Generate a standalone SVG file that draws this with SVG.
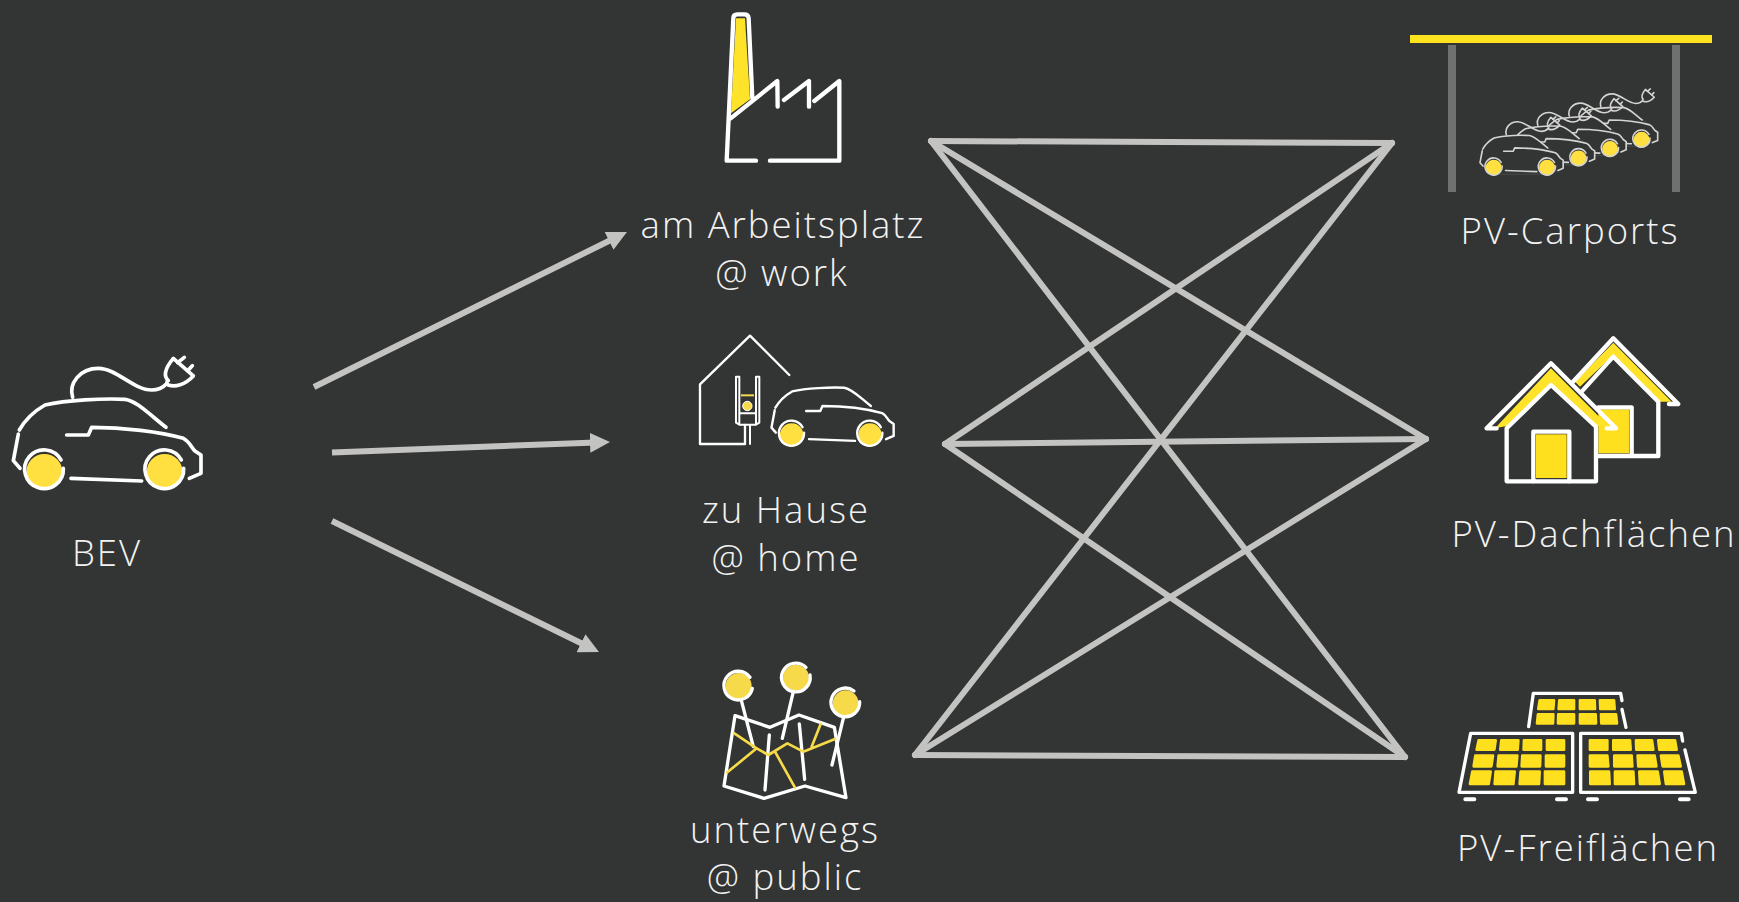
<svg xmlns="http://www.w3.org/2000/svg" xmlns:xlink="http://www.w3.org/1999/xlink" width="1739" height="902" viewBox="0 0 1739 902">
<style>
text{font-family:"Open Sans","Lato","Liberation Sans",sans-serif;font-weight:300;font-size:36.5px;letter-spacing:2px;fill:#f2f2f2;text-anchor:middle}
.l{fill:none;stroke:#fff;stroke-linecap:round;stroke-linejoin:round}
.y{fill:#ffe32a;stroke:none}
.mesh line{stroke:#c3c4c2;stroke-width:6;stroke-linecap:round}
.arr line{stroke:#c3c4c2;stroke-width:6;marker-end:url(#head)}
.cell{fill:#ffe01f;stroke:#ffe01f;stroke-width:8;stroke-linejoin:round}
.cw{stroke-width:11;fill:none;stroke-linecap:round;stroke-linejoin:round}
.whl{fill:#ffe040;stroke:none}
.pin{fill:#f6da4a;stroke:none}
.rd{fill:none;stroke:#f6da4a;stroke-width:8;stroke-linecap:round;stroke-linejoin:round}
</style>
<defs>
<marker id="head" markerUnits="userSpaceOnUse" markerWidth="20" markerHeight="20" refX="6" refY="10" orient="auto" viewBox="0 0 20 20"><path d="M0,0L20,10L0,20z" fill="#c3c4c2"/></marker>
<g id="carbody" class="cw">
<path d="M58,270C75,240 100,215 135,195C200,180 310,175 375,178C410,182 450,225 498,262"/>
<path d="M55,282L40,362L60,385"/>
<path d="M200,285L265,285L275,262C370,262 480,275 550,295C570,305 575,325 585,333L603,345L603,400L568,415"/>
<path d="M213,415L425,423"/>
<circle class="whl" cx="133" cy="396" r="54"/>
<circle class="whl" cx="494" cy="396" r="54"/>
<path d="M183,360A58,58 0 1 0 190,385"/>
<path d="M544,360A58,58 0 1 0 551,385"/>
</g>
<g id="carcable" class="cw">
<path d="M218,172C205,130 240,85 295,85C350,85 400,150 455,150C475,150 490,142 498,133"/>
<path d="M505,122C490,108 495,85 520,55L580,108C555,135 525,142 505,135C498,130 500,124 505,122Z"/>
<path d="M533,68L553,52M563,92L577,77"/>
</g>
<path id="carfill" d="M40,362L58,270C75,240 100,215 135,195C200,180 310,175 375,178C410,182 450,225 498,262L550,295C570,305 575,325 585,333L603,345L603,400L494,440L133,440L60,385Z" fill="#333534"/>
</defs>
<rect width="1739" height="902" fill="#333534"/>
<g id="connectors">
<g class="mesh">
<line x1="931" y1="141" x2="1392" y2="143"/>
<line x1="931" y1="141" x2="1426" y2="439"/>
<line x1="931" y1="141" x2="1405" y2="757"/>
<line x1="945" y1="444" x2="1392" y2="143"/>
<line x1="945" y1="444" x2="1426" y2="439"/>
<line x1="945" y1="444" x2="1405" y2="757"/>
<line x1="915" y1="755" x2="1392" y2="143"/>
<line x1="915" y1="755" x2="1426" y2="439"/>
<line x1="915" y1="755" x2="1405" y2="757"/>
</g>
<g class="arr">
<line x1="314" y1="387" x2="614.4" y2="238.2"/>
<line x1="332" y1="452.5" x2="596" y2="442.5"/>
<line x1="332" y1="521" x2="586.4" y2="645.8"/>
</g>
</g>
<g id="node-bev">
<g transform="translate(0,340) scale(.3333)" stroke="#fff"><use xlink:href="#carbody" href="#carbody"/><use xlink:href="#carcable" href="#carcable"/></g>
<text x="107" y="566">BEV</text>
</g>
<g id="node-work">
<g transform="translate(700,0) scale(.3333)">
<path class="y" d="M108,55L135,55L150,298L93,340Z"/>
<path class="l" stroke-width="13" d="M168,482L80,482L100,55Q100,43 112,43L133,43Q145,43 146,55L157,295M92,355L232,243L233,320M252,300L327,243L327,320M343,303L418,243L418,482L210,482"/>
</g>
<text x="783" y="238">am Arbeitsplatz</text>
<text x="782" y="286">@ work</text>
</g>
<g id="node-home">
<g transform="translate(680,320) scale(.3333)">
<path class="l" stroke-width="7" d="M328,165L210,47L60,193L60,372L195,372L195,315"/>
<path class="l" stroke-width="6" d="M178,170L168,170L168,308L178,314L228,314L238,308L238,170L228,170M178,170L178,314M228,170L228,314M178,280L228,280M210,315L210,372"/>
<path d="M183,226L222,226" stroke="#f6da4a" stroke-width="6" fill="none"/>
<circle cx="202" cy="258" r="14" fill="#f6da4a" stroke="#fff" stroke-width="3"/>
</g>
<g transform="translate(762.8,349.1) scale(.217)" stroke="#fff"><use xlink:href="#carbody" href="#carbody"/></g>
<text x="786" y="523">zu Hause</text>
<text x="786" y="571">@ home</text>
</g>
<g id="node-public">
<g transform="translate(700,650) scale(.3333)">
<path class="l" stroke-width="10" d="M72,408L105,197L210,232L297,195L403,232L438,443L315,408L192,445Z"/>
<path class="l" stroke-width="10" d="M208,255L195,420M298,222L314,388M125,155L160,290M280,125L247,265M430,205L396,345"/>
<path class="rd" d="M103,250L170,295L205,315L262,280L310,305L405,267M82,367L170,295M225,305L285,413M362,222L335,290"/>
<circle class="pin" cx="116" cy="108" r="39"/><path class="l" stroke-width="10" d="M150,82A43,43 0 1 0 157,115"/>
<circle class="pin" cx="288" cy="83" r="39"/><path class="l" stroke-width="10" d="M318,52A43,43 0 1 0 330,75"/>
<circle class="pin" cx="437" cy="160" r="39"/><path class="l" stroke-width="10" d="M462,123A43,43 0 1 0 479,155"/>
</g>
<text x="785" y="843">unterwegs</text>
<text x="785" y="890">@ public</text>
</g>
<g id="node-carports">
<rect x="1410" y="35" width="302" height="8" fill="#ffe31f"/>
<rect x="1448" y="45" width="8" height="147" fill="#6f7170"/>
<rect x="1672" y="45" width="8" height="147" fill="#6f7170"/>
<g stroke="#d4d4d2">
<g transform="translate(1568.6,81.3) scale(.1477)"><use xlink:href="#carfill" href="#carfill"/><use xlink:href="#carbody" href="#carbody"/><use xlink:href="#carcable" href="#carcable"/></g>
<g transform="translate(1537.1,90.6) scale(.1477)"><use xlink:href="#carfill" href="#carfill"/><use xlink:href="#carbody" href="#carbody"/><use xlink:href="#carcable" href="#carcable"/></g>
<g transform="translate(1505.6,99.9) scale(.1477)"><use xlink:href="#carfill" href="#carfill"/><use xlink:href="#carbody" href="#carbody"/><use xlink:href="#carcable" href="#carcable"/></g>
<g transform="translate(1474.1,109.2) scale(.1477)"><use xlink:href="#carfill" href="#carfill"/><use xlink:href="#carbody" href="#carbody"/><use xlink:href="#carcable" href="#carcable"/></g>
</g>
<text x="1570" y="244">PV-Carports</text>
</g>
<g id="node-roofs">
<g transform="translate(1470,320) scale(.3333)">
<path class="y" d="M430,68L605,245L565,245L430,105L330,200L315,185Z"/>
<rect x="385" y="268" width="92" height="132" fill="#ffe01f"/>
<path class="l" stroke-width="13" d="M305,190L430,55L625,252L597,252M335,215L430,110L565,245L565,408L385,408M385,262L485,262L485,408"/>
<path class="y" d="M243,145L415,318L380,318L243,190L110,318L75,325Z"/>
<path class="l" stroke-width="13" d="M50,325L243,130L438,325L410,325M50,325L80,325M110,325L243,195L378,320L378,484L110,484Z" />
<path class="l" stroke-width="13" d="M190,484L190,335L298,335L298,484"/>
<rect x="198" y="343" width="92" height="131" fill="#ffe01f"/>
</g>
<text x="1594" y="547">PV-Dachflächen</text>
</g>
<g id="node-fields">
<g transform="translate(1450,680) scale(.3333)">
<path class="l" stroke-width="10" d="M236,140L250,40L512,40L516,62M516,88L528,142"/>
<path class="cell" d="M269,61L312,61L310,87L265,87ZM328,61L372,61L372,87L326,87ZM390,61L434,61L435,87L390,87ZM450,61L492,61L494,87L451,87Z"/>
<path class="cell" d="M264,103L310,103L309,130L261,130ZM325,103L372,103L372,130L324,130ZM390,103L437,103L438,130L390,130ZM453,103L498,103L501,130L454,130Z"/>
<path class="l" stroke-width="10" d="M62,160L368,160L368,337L27,337Z"/>
<path class="cell" d="M86,181L137,181L133,209L80,209ZM154,181L205,181L203,209L151,209ZM222,181L273,181L273,209L221,209ZM291,181L342,181L342,209L291,209Z"/>
<path class="cell" d="M76,227L129,227L124,259L71,259ZM146,227L202,227L199,259L143,259ZM217,227L271,227L270,259L215,259ZM288,227L342,227L342,259L288,259Z"/>
<path class="cell" d="M67,275L122,275L116,312L60,312ZM137,275L194,275L190,312L134,312ZM212,275L269,275L267,312L209,312ZM285,275L342,275L342,312L285,312Z"/>
<path class="l" stroke-width="10" d="M698,183L694,160L392,160L392,337L736,337L705,210"/>
<path class="cell" d="M420,181L472,181L472,209L420,209ZM490,181L540,181L542,209L490,209ZM558,181L606,181L610,209L559,209ZM625,181L675,181L680,209L628,209Z"/>
<path class="cell" d="M420,227L472,227L475,259L420,259ZM493,227L545,227L547,259L493,259ZM563,227L614,227L619,259L565,259ZM633,227L685,227L692,259L638,259Z"/>
<path class="cell" d="M421,275L477,275L479,312L421,312ZM495,275L550,275L552,312L495,312ZM568,275L623,275L629,312L570,312ZM643,275L695,275L702,312L648,312Z"/>
<path class="l" stroke-width="12" d="M46,358L73,358M321,358L348,358M414,358L441,358M690,358L716,358"/>
</g>
<text x="1588" y="861">PV-Freiflächen</text>
</g>
</svg>
